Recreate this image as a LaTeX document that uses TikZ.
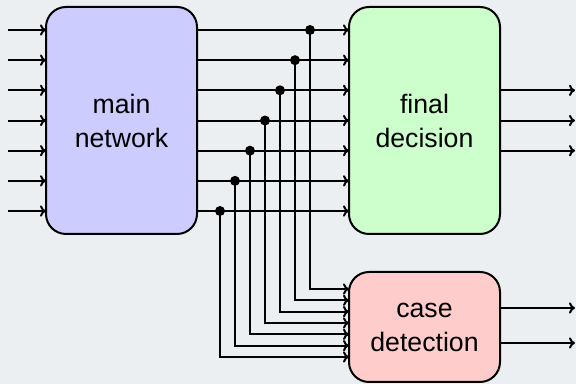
\documentclass[tikz,border=0pt]{standalone}
\usepackage{fontspec}
\setmainfont{Liberation Sans}
\usetikzlibrary{arrows.meta}
\definecolor{pagebg}{HTML}{ECEFF1}
\definecolor{netfill}{HTML}{CCCCFF}
\definecolor{decfill}{HTML}{CCFFCC}
\definecolor{casefill}{HTML}{FFCCCC}
\begin{document}
\begin{tikzpicture}[x=0.75pt,y=-0.75pt,line width=1.5pt,>={To[length=4.5pt,width=8.5pt]},
  blockbox/.style={draw,rounded corners=15pt,outer sep=0pt,minimum width=113.25pt,
    align=center,font=\fontsize{20}{25.5}\selectfont},
  tap/.style={circle,fill=black,inner sep=0pt,minimum size=7.5pt}]
% page background
\fill[pagebg] (0,0) rectangle (576,384);
\useasboundingbox (0,0) rectangle (576,384);

% blocks
\node[blockbox,fill=netfill,minimum height=170.25pt] (main) at (121.5,120.5) {main\\network};
\node[blockbox,fill=decfill,minimum height=170.25pt] (final) at (424.5,120.5) {final\\decision};
\node[blockbox,fill=casefill,minimum height=82.5pt] (case) at (424.5,327) {case\\detection};

% inputs and main -> final wires
\foreach \i in {0,...,6} {
  \pgfmathsetmacro\yy{30+30.17*\i}
  \coordinate (in\i) at (8,\yy);
  \draw[->] (in\i) -- (main.west |- in\i);
  \draw[->] (main.east |- in\i) -- (final.west |- in\i);
}

% taps feeding the case detector
\foreach \i in {0,...,6} {
  \pgfmathsetmacro\yy{30+30.17*\i}
  \pgfmathsetmacro\xx{310-15*\i}
  \pgfmathsetmacro\yc{289+11.33*\i}
  \coordinate (tp\i) at (\xx,\yy);
  \coordinate (bend\i) at (\xx,\yc);
  \draw[->] (tp\i) -- (bend\i) -- (case.west |- bend\i);
  \node[tap] (dot\i) at (tp\i) {};
}

% outputs of final decision
\foreach \i in {2,3,4} {
  \pgfmathsetmacro\yy{30+30.17*\i}
  \coordinate (fo\i) at (575,\yy);
  \draw[->] (final.east |- fo\i) -- (fo\i);
}

% outputs of case detection
\coordinate (co1) at (575,308);
\coordinate (co2) at (575,343);
\draw[->] (case.east |- co1) -- (co1);
\draw[->] (case.east |- co2) -- (co2);
\end{tikzpicture}
\end{document}
